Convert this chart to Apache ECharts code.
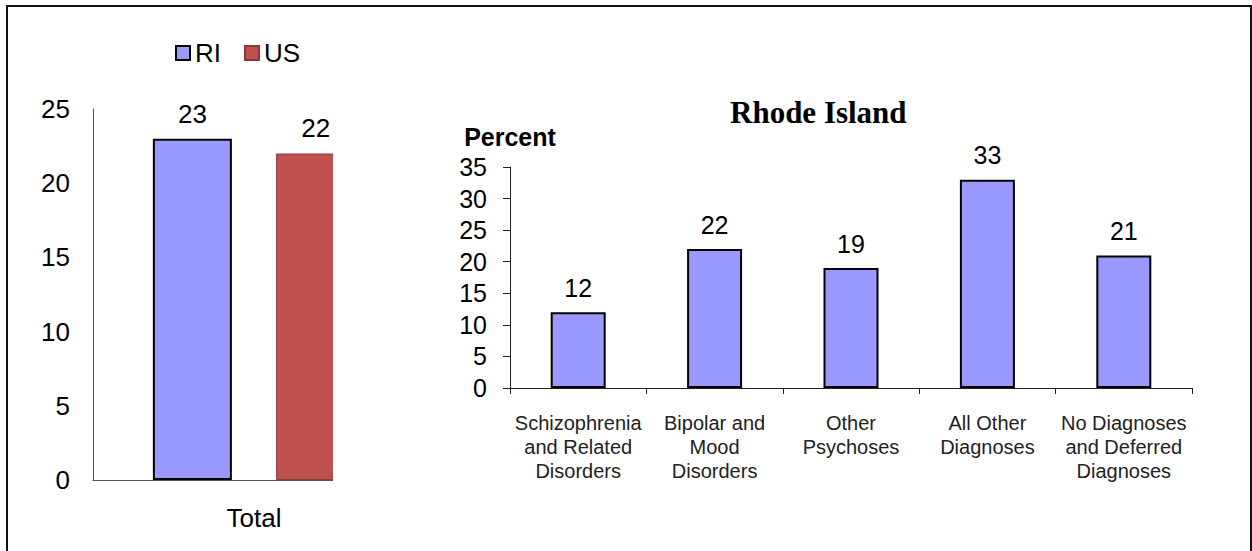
<!DOCTYPE html>
<html>
<head>
<meta charset="utf-8">
<script src="https://cdn.jsdelivr.net/npm/echarts@6/dist/echarts.min.js"></script>
<style>
html, body { margin: 0; padding: 0; background: #fff; }
#main { width: 1252px; height: 551px; }
</style>
</head>
<body>
<div id="main"></div>
<script>
// left chart: total, RI vs US
var totalCats = ['Total'];
var totalRI = [23];
var totalUS = [22];
var totalTicks = { min: 0, max: 25, interval: 5 };

// right chart: Rhode Island by diagnosis
var diagCats = [
  'Schizophrenia\nand Related\nDisorders',
  'Bipolar and\nMood\nDisorders',
  'Other\nPsychoses',
  'All Other\nDiagnoses',
  'No Diagnoses\nand Deferred\nDiagnoses'
];
var diagRI = [12, 22, 19, 33, 21];
var diagTicks = { min: 0, max: 35, interval: 5 };

var sans = 'Liberation Sans, Arial, sans-serif';
var riColor = '#9999FF';
var usColor = '#C0504D';

var chart = echarts.init(document.getElementById('main'), null, { renderer: 'svg' });

var option = {
  animation: false,
  backgroundColor: '#fff',
  textStyle: { fontFamily: sans, color: '#000' },
  legend: {
    data: ['RI', 'US'],
    left: 175,
    top: 40,
    padding: 0,
    itemWidth: 14,
    itemHeight: 14,
    itemGap: 23,
    icon: 'rect',
    textStyle: { fontFamily: sans, fontSize: 26, color: '#000' }
  },
  grid: [
    { left: 93, top: 109, width: 322, height: 371 },
    { left: 510, top: 167, right: 60, bottom: 163 }
  ],
  xAxis: [
    {
      gridIndex: 0, type: 'category', data: totalCats,
      axisLine: { lineStyle: { color: '#555', width: 1 } },
      axisTick: { show: false },
      axisLabel: { margin: 25, fontSize: 26, color: '#000', fontFamily: sans }
    },
    {
      gridIndex: 1, type: 'category', data: diagCats,
      axisLine: { lineStyle: { color: '#222', width: 1 } },
      axisTick: { show: true, length: 6, lineStyle: { color: '#222' } },
      axisLabel: { margin: 23, fontSize: 20, lineHeight: 24, color: '#222', fontFamily: sans, interval: 0 }
    }
  ],
  yAxis: [
    {
      gridIndex: 0, type: 'value',
      min: totalTicks.min, max: totalTicks.max, interval: totalTicks.interval,
      splitLine: { show: false },
      axisLine: { show: true, lineStyle: { color: '#555', width: 1 } },
      axisTick: { show: false },
      axisLabel: { margin: 23, fontSize: 26, color: '#000', fontFamily: sans }
    },
    {
      gridIndex: 1, type: 'value',
      min: diagTicks.min, max: diagTicks.max, interval: diagTicks.interval,
      name: 'Percent',
      nameLocation: 'end',
      nameGap: 18,
      nameTextStyle: { fontSize: 25, fontWeight: 'bold', color: '#000', fontFamily: sans, align: 'center' },
      splitLine: { show: false },
      axisLine: { show: true, lineStyle: { color: '#222', width: 1 } },
      axisTick: { show: true, inside: false, length: 7, lineStyle: { color: '#222' } },
      axisLabel: { margin: 23, fontSize: 25, color: '#000', fontFamily: sans }
    }
  ],
  series: [
    {
      name: 'RI', type: 'bar', xAxisIndex: 0, yAxisIndex: 0,
      data: totalRI, barWidth: 79, barGap: '56%',
      itemStyle: { color: riColor, borderColor: '#000', borderWidth: 2 },
      label: { show: true, position: 'top', distance: 12, fontSize: 26, color: '#000', fontFamily: sans }
    },
    {
      name: 'US', type: 'bar', xAxisIndex: 0, yAxisIndex: 0,
      data: totalUS, barWidth: 79,
      itemStyle: { color: usColor, borderColor: '#8a3a38', borderWidth: 1 },
      label: { show: true, position: 'top', distance: 13, fontSize: 26, color: '#000', fontFamily: sans }
    },
    {
      name: 'RI diag', type: 'bar', xAxisIndex: 1, yAxisIndex: 1,
      data: diagRI, barWidth: 55,
      itemStyle: { color: riColor, borderColor: '#000', borderWidth: 2 },
      label: { show: true, position: 'top', distance: 12, fontSize: 25, color: '#000', fontFamily: sans }
    }
  ],
  graphic: [
    // the right picture overlaps the left chart and hides part of it
    { type: 'rect', z: 100, shape: { x: 333, y: 95, width: 105, height: 410 }, style: { fill: '#fff' } },
    {
      type: 'text', z: 101, left: 730, top: 97,
      style: { text: 'Rhode Island', fontSize: 31, fontWeight: 'bold', fontFamily: 'Liberation Serif, Times New Roman, serif', fill: '#000' }
    },
    { type: 'rect', z: 102, shape: { x: 7, y: 6, width: 1244, height: 560 }, style: { fill: 'none', stroke: '#111', lineWidth: 2 } }
  ]
};

chart.setOption(option);
</script>
</body>
</html>
